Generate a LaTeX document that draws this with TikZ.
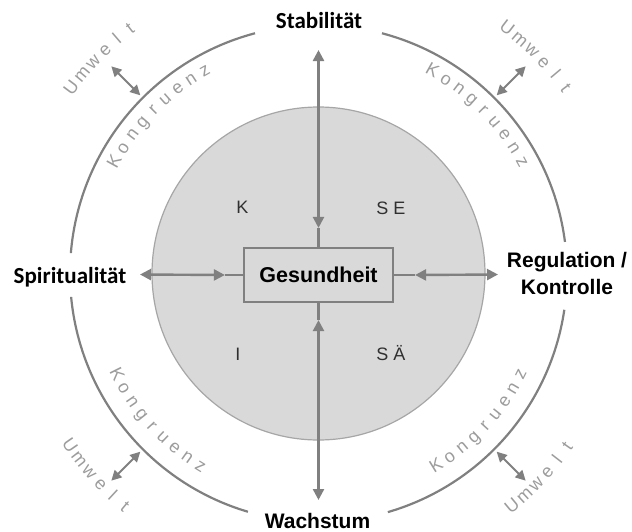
\documentclass[tikz,border=0pt]{standalone}
\usepackage{fontspec}
\setmainfont{Liberation Sans}
\newfontfamily\calibri{Carlito}
\usetikzlibrary{arrows.meta}
\definecolor{linie}{HTML}{808080}
\definecolor{kreis}{HTML}{D9D9D9}
\definecolor{rand}{HTML}{A6A6A6}
\definecolor{wortgrau}{HTML}{9C9C9C}
\definecolor{buchst}{HTML}{303030}

\begin{document}
\begin{tikzpicture}[x=1pt,y=1pt,
  pfeil/.style={draw=linie,line width=2.4pt,{Triangle[length=11pt,width=11pt]}-{Triangle[length=11pt,width=11pt]}},
  klein/.style={line width=2pt,{Triangle[length=10pt,width=10pt]}-{Triangle[length=10pt,width=10pt]}},
  strich/.style={draw=linie,line width=2.4pt},
  bogen/.style={draw=linie,line width=2.2pt},
  kasten/.style={draw=linie,line width=2.2pt,fill=kreis,minimum width=149pt,minimum height=54pt,inner sep=0,font=\bfseries\fontsize{21.5}{26}\selectfont},
  titel/.style={inner sep=0,font=\bfseries\fontsize{21}{27}\selectfont},
  buchstabe/.style={inner sep=0,anchor=base,text=buchst,font=\fontsize{18}{20}\selectfont},
  wort/.style={inner sep=0,anchor=base,text=wortgrau,font=\fontsize{18}{18}\selectfont}]
\useasboundingbox (-318.5,-257.5) rectangle (313.5,273.5);
\draw[fill=kreis,draw=rand,line width=1.2pt] (0,0) circle[radius=166.5];
\draw[bogen] (7.3:248.5) arc[start angle=7.3,end angle=75.2,radius=248.5];
\draw[bogen] (104.8:248.5) arc[start angle=104.8,end angle=175.3,radius=248.5];
\draw[bogen] (185.4:248.5) arc[start angle=185.4,end angle=253.5,radius=248.5];
\draw[bogen] (286.2:248.5) arc[start angle=286.2,end angle=351.6,radius=248.5];
\node[kasten] (ges) at (0,-1.5) {Gesundheit};
\node[titel,font=\calibri\bfseries\fontsize{23}{27}\selectfont,anchor=base] (stab) at (0.5,245.5) {Stabilität};
\node[titel,font=\calibri\bfseries\fontsize{23}{27}\selectfont,anchor=base] (spir) at (-248.5,-9.5) {Spiritualität};
\node[titel,anchor=base] (wach) at (-1,-254.5) {Wachstum};
\node[titel,anchor=north,align=center] (reg) at (248.5,21) {Regulation /\\Kontrolle};
\node[buchstabe] (k) at (-76,60) {K};
\node[buchstabe] (se) at (72.5,59) {S E};
\node[buchstabe] (i) at (-80.5,-87) {I};
\node[buchstabe] (sae) at (72.5,-87) {S Ä};
\coordinate (oben) at (0,223.5);
\coordinate (unten) at (0,-226.5);
\coordinate (links) at (-178.5,-1);
\coordinate (rechts) at (179.5,-1);
\draw[pfeil] (oben) -- ([yshift=19pt]ges.north);
\draw[strich] ([yshift=19pt]ges.north) -- (ges.north);
\draw[pfeil] (unten) -- ([yshift=-17pt]ges.south);
\draw[strich] ([yshift=-17pt]ges.south) -- (ges.south);
\draw[pfeil] (links) -- ([xshift=-18pt]ges.west);
\draw[strich] ([xshift=-18pt]ges.west) -- (ges.west);
\draw[pfeil] (rechts) -- ([xshift=21pt]ges.east);
\draw[strich] ([xshift=21pt]ges.east) -- (ges.east);
\foreach \a in {45,135,225,315}
  \draw[pfeil,klein] (\a:252) -- (\a:293);
\foreach \m/\d [count=\q] in {135.3/-1,44.7/-1,222.5/1,317.5/1} {
  \foreach \ch [count=\i] in {K,o,n,g,r,u,e,n,z}
    \node[wort,rotate={\m+\d*4*(\i-5)+\d*90}] (kong\q-\i) at ({\m+\d*4*(\i-5)}:{229+2*\d}) {\ch};
  \foreach \ch [count=\i] in {U,m,w,e,l,t}
    \node[wort,rotate={\m+\d*3.1*(\i-3.5)+\d*90}] (umw\q-\i) at ({\m+\d*3.1*(\i-3.5)}:{306+2.5*\d}) {\ch};
}
\end{tikzpicture}
\end{document}
